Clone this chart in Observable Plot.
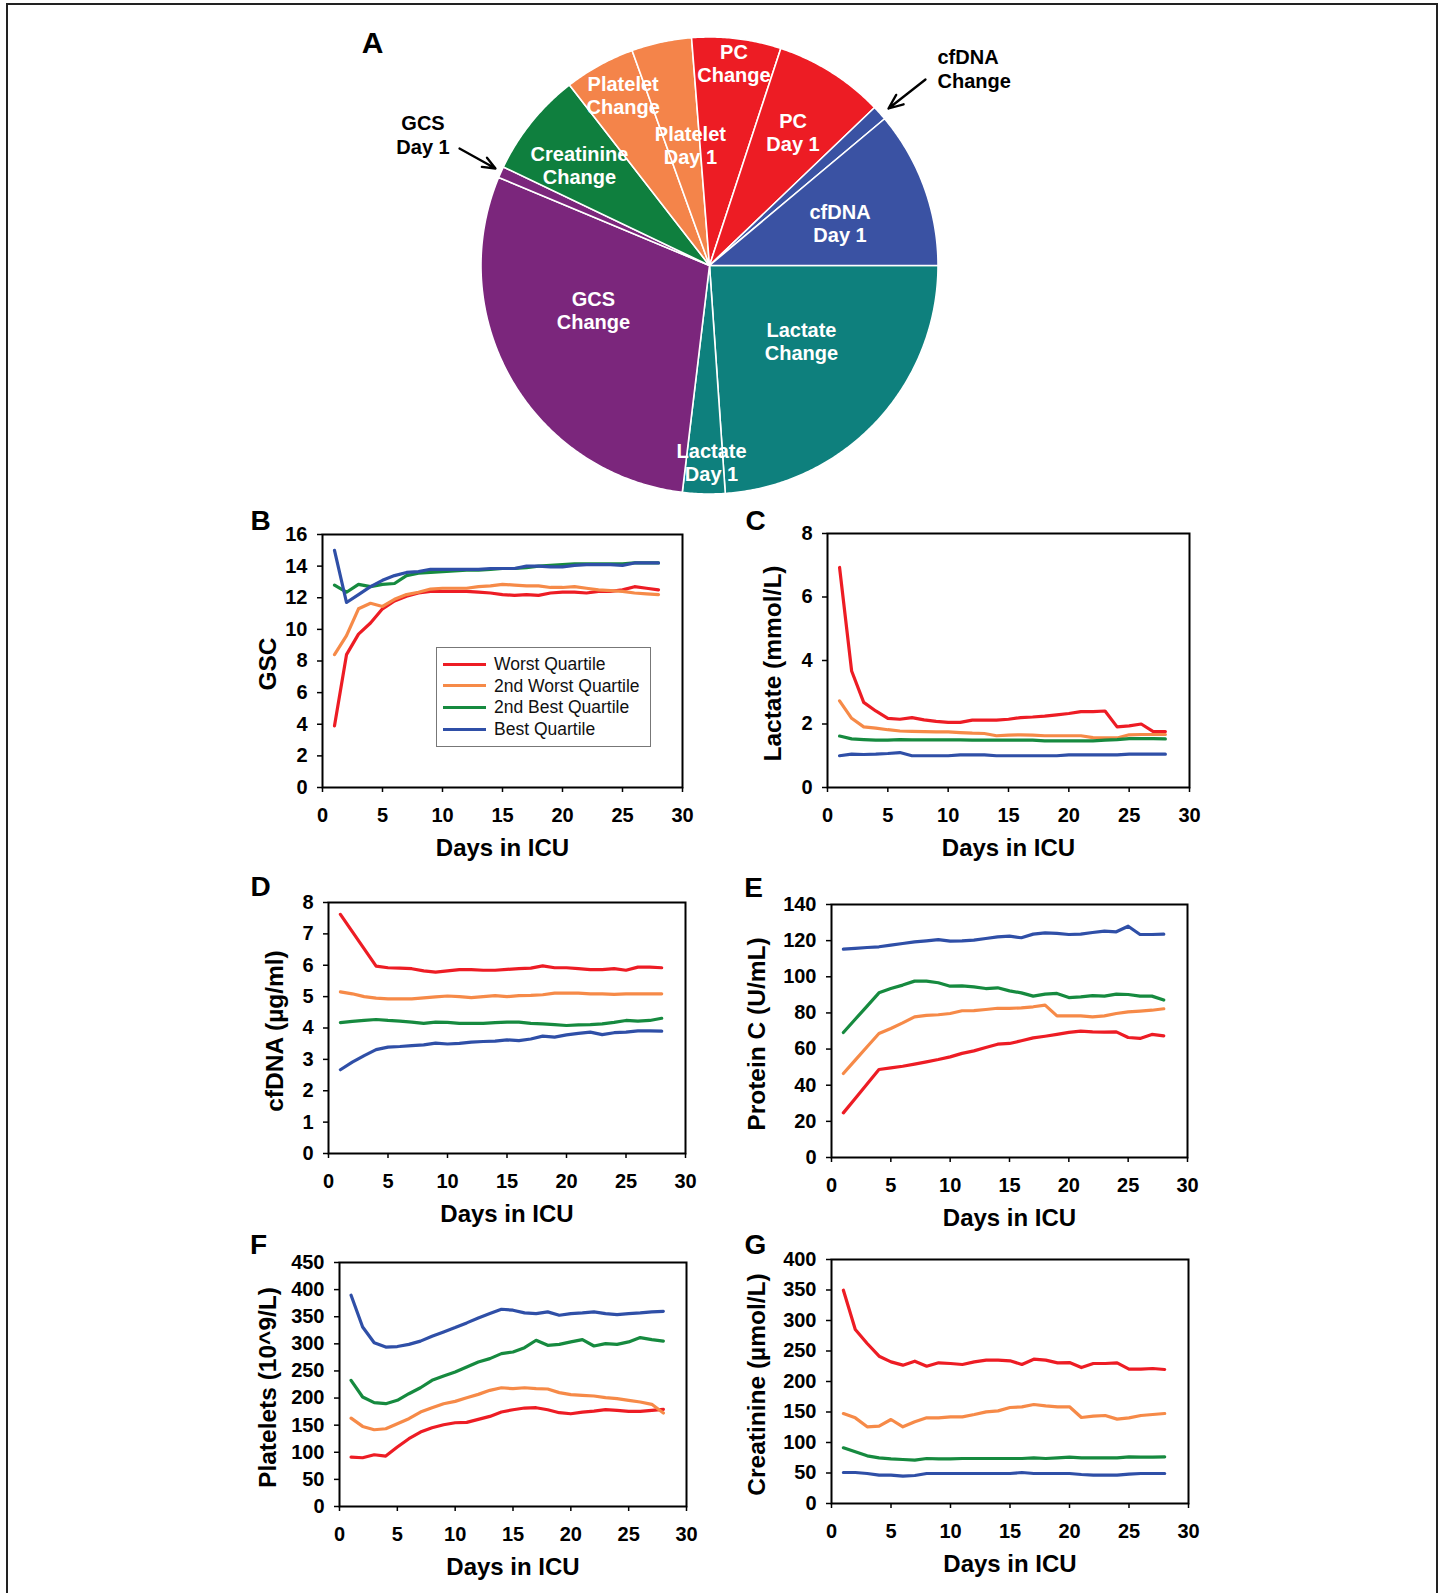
<!DOCTYPE html>
<html><head><meta charset="utf-8">
<script src="https://cdn.jsdelivr.net/npm/d3@7"></script>
<script src="https://cdn.jsdelivr.net/npm/@observablehq/plot@0.6"></script>
<style>
body{margin:0;background:#fff;}
#fig{position:relative;width:1444px;height:1593px;overflow:hidden;background:#fff;font-family:"Liberation Sans",Arial,sans-serif;}
#border{position:absolute;left:6px;top:3px;width:1428px;height:1700px;border:2px solid #222;border-bottom:none;}
</style></head><body><div id="fig"><div id="border"></div></div>
<script>
// ---------- DATA ----------
const pieCategories = ["Lactate Change","Lactate Day 1","GCS Change","GCS Day 1","Creatinine Change","Platelet Change","Platelet Day 1","PC Change","PC Day 1","cfDNA Change","cfDNA Day 1"];
const pieValues = [23.9, 3.0, 29.4, 0.8, 7.4, 5.0, 4.25, 6.3, 7.8, 1.05, 11.1];
const pieColors = ["#0E807D","#0E807D","#7B267C","#7B267C","#0F7F3E","#F4844A","#F4844A","#ED1C24","#ED1C24","#3A52A3","#3A52A3"];

const days = [1,2,3,4,5,6,7,8,9,10,11,12,13,14,15,16,17,18,19,20,21,22,23,24,25,26,27,28];
const seriesNames = ["Worst Quartile","2nd Worst Quartile","2nd Best Quartile","Best Quartile"];
const seriesColors = ["#ED1C24","#F68A48","#168A3F","#2F4FA7"];
const xTicks = [0,5,10,15,20,25,30];

const gcsWorst  = [3.9,8.4,9.7,10.4,11.3,11.8,12.1,12.3,12.4,12.4,12.4,12.4,12.35,12.3,12.2,12.15,12.2,12.15,12.3,12.35,12.35,12.3,12.4,12.4,12.5,12.7,12.6,12.5];
const gcsWorst2 = [8.4,9.6,11.3,11.65,11.45,11.9,12.2,12.35,12.55,12.6,12.6,12.6,12.7,12.75,12.85,12.8,12.75,12.75,12.65,12.65,12.7,12.6,12.5,12.45,12.4,12.3,12.25,12.2];
const gcsBest2  = [12.8,12.35,12.85,12.7,12.85,12.9,13.4,13.55,13.6,13.65,13.7,13.75,13.75,13.8,13.85,13.85,13.9,14.0,14.05,14.1,14.15,14.15,14.15,14.15,14.15,14.2,14.2,14.2];
const gcsBest   = [15.0,11.7,12.2,12.7,13.1,13.4,13.6,13.65,13.8,13.8,13.8,13.8,13.8,13.85,13.85,13.85,14.0,14.0,13.95,13.95,14.05,14.1,14.1,14.1,14.05,14.2,14.2,14.2];

const lacWorst  = [6.93,3.67,2.68,2.41,2.18,2.15,2.2,2.13,2.08,2.05,2.05,2.12,2.12,2.12,2.15,2.2,2.22,2.25,2.29,2.33,2.39,2.39,2.41,1.91,1.94,2.0,1.76,1.76];
const lacWorst2 = [2.73,2.18,1.91,1.87,1.82,1.78,1.77,1.76,1.75,1.75,1.73,1.71,1.7,1.63,1.65,1.66,1.65,1.63,1.63,1.63,1.63,1.57,1.56,1.56,1.66,1.67,1.67,1.67];
const lacBest2  = [1.62,1.53,1.51,1.49,1.49,1.51,1.5,1.5,1.5,1.5,1.5,1.49,1.49,1.49,1.49,1.49,1.49,1.47,1.47,1.47,1.47,1.47,1.49,1.51,1.54,1.54,1.54,1.53];
const lacBest   = [1.0,1.05,1.04,1.05,1.07,1.1,1.0,1.0,1.0,1.0,1.03,1.03,1.03,1.0,1.0,1.0,1.0,1.0,1.0,1.03,1.03,1.03,1.03,1.03,1.05,1.05,1.05,1.05];

const dnaWorst  = [7.62,7.07,6.52,5.97,5.92,5.91,5.89,5.82,5.78,5.82,5.86,5.86,5.84,5.84,5.87,5.89,5.91,5.98,5.92,5.92,5.89,5.86,5.86,5.89,5.84,5.94,5.94,5.92];
const dnaWorst2 = [5.15,5.09,5.0,4.95,4.93,4.93,4.93,4.96,4.99,5.02,5.0,4.97,5.0,5.03,5.0,5.03,5.04,5.06,5.11,5.11,5.11,5.09,5.09,5.07,5.09,5.09,5.09,5.09];
const dnaBest2  = [4.17,4.21,4.24,4.27,4.24,4.22,4.19,4.15,4.19,4.18,4.15,4.15,4.15,4.17,4.19,4.19,4.15,4.13,4.11,4.08,4.1,4.11,4.13,4.18,4.24,4.22,4.24,4.31];
const dnaBest   = [2.67,2.91,3.12,3.31,3.39,3.41,3.44,3.46,3.52,3.49,3.51,3.55,3.57,3.58,3.62,3.6,3.65,3.74,3.71,3.78,3.83,3.87,3.79,3.85,3.87,3.91,3.91,3.9];

const pcWorst  = [24.7,32.7,40.7,48.7,49.6,50.5,51.7,52.9,54.2,55.7,57.6,59,60.9,62.7,63.1,64.6,66.2,67.1,68.1,69.2,69.9,69.5,69.4,69.5,66.4,65.9,68.1,67.3];
const pcWorst2 = [46.5,53.9,61.3,68.6,71.4,74.5,77.8,78.6,79,79.7,81.2,81.3,81.9,82.6,82.5,82.8,83.4,84.3,78.4,78.4,78.4,77.8,78.4,79.7,80.6,81,81.5,82.3];
const pcBest2  = [69.2,76.5,83.8,91.1,93.5,95.4,97.6,97.6,96.7,94.8,95,94.4,93.5,93.9,92.2,91.1,89.3,90.4,90.8,88.5,88.9,89.6,89.3,90.4,90.2,89.3,89.3,87.1];
const pcBest   = [115.3,115.7,116.2,116.6,117.5,118.4,119.3,119.9,120.6,119.7,119.9,120.3,121.2,122.1,122.5,121.6,123.6,124.3,124,123.4,123.6,124.5,125.3,124.9,128,123.4,123.4,123.6];

const pltWorst  = [91.1,89.9,95.4,93,109.6,125,137.3,145.3,150.8,154.5,155.1,160.7,166.2,174.2,178.5,181.6,182.2,178.5,173,171,174.2,176,178.5,177.3,175.4,175.4,177.3,179.1];
const pltWorst2 = [163,147.7,141.6,143.4,152.7,161.9,174.2,182.2,189.6,193.9,200.7,206.8,214.2,219,217.3,219,217.3,216.7,210,206.2,205,203.8,200.7,198.8,195.8,192.7,188.4,172.4];
const pltBest2  = [232.7,202,191.5,189.6,195.8,208,219,232.7,240.7,248,257.4,266.6,272.7,282,285,293,306.6,297.3,299,303.5,307.8,296,300.4,299,303.5,311.5,307.8,305];
const pltBest   = [389.7,331,302,294,295,299,305,314,322,330,338.6,347.8,355.8,363.8,362,357,355.8,359,352.7,355.8,357,359,355.8,354,355.8,357,359,360];

const crWorst  = [349.7,285.2,262.3,241.5,232.2,226.8,233.3,225.1,230.6,229.5,227.9,232.2,235,235,233.9,227.9,236.6,235,230.6,231.1,222.9,229.5,229.5,230.6,220.2,220.2,221.3,219.7];
const crWorst2 = [147.5,140.4,125.7,126.8,137.7,125.7,133.9,140.4,140.4,142.1,142.1,145.9,150.3,151.9,157.4,158.5,162.3,160.1,158.5,158.5,141,143.2,144.3,138.3,140.4,144.3,145.9,147.5];
const crBest2  = [91.3,84.7,78.1,74.9,73.2,72.1,71,73.8,73.2,73.2,73.8,73.8,73.8,73.8,73.8,73.8,74.9,73.8,74.9,76,74.9,74.9,74.9,74.9,76.5,76,76,76.5];
const crBest   = [50.8,50.8,49.2,46.4,46.4,44.8,45.9,49.2,49.2,49.2,49.2,49.2,49.2,49.2,49.2,50.8,49.2,49.2,49.2,49.2,47.5,46.4,46.4,46.4,48.1,49.2,49.2,49.2];

// ---------- LAYOUT ----------
const FONT = '"Liberation Sans", Arial, sans-serif';
const fig = document.getElementById("fig");
const pie = {cx: 709, cy: 265, r: 228.5};
const labelPolar = { // [angle deg clockwise from north, radius fraction]
  "Lactate Change":[129.3,0.52], "Lactate Day 1":[179.4,0.86], "GCS Change":[248.8,0.545],
  "Creatinine Change":[307.8,0.72], "Platelet Change":[333.1,0.835], "Platelet Day 1":[351,0.535],
  "PC Change":[6.9,0.89], "PC Day 1":[32,0.69], "cfDNA Day 1":[72.2,0.60]
};

function place(el, left, top){ el.style.position="absolute"; el.style.left=left+"px"; el.style.top=top+"px"; fig.appendChild(el); }

// ---------- PIE (panel A) ----------
{
  const arcs = d3.pie().sort(null).value(d => d).startAngle(Math.PI/2).endAngle(Math.PI/2 + 2*Math.PI)(pieValues);
  const pt = (a, rr) => ({x: pie.cx + rr*Math.sin(a), y: pie.cy - rr*Math.cos(a)});
  const sliceMarks = arcs.map((a, i) => {
    const n = Math.max(2, Math.ceil((a.endAngle - a.startAngle) / (Math.PI/360)));
    const pts = [pt(0,0)];
    for (let k = 0; k <= n; k++) pts.push(pt(a.startAngle + (a.endAngle - a.startAngle)*k/n, pie.r));
    return Plot.line(pts, {x:"x", y:"y", fill: pieColors[i], stroke:"white", strokeWidth:1.6, strokeLinejoin:"round", curve:"linear-closed"});
  });
  const two = s => s.replace(" ", "\n");
  const inner = pieCategories.filter(c => labelPolar[c]).map(c => {
    const [ang, f] = labelPolar[c];
    const p = pt(ang*Math.PI/180, f*pie.r);
    return {x:p.x, y:p.y, t: two(c)};
  });
  const svg = Plot.plot({
    width:1444, height:500, margin:0,
    x:{domain:[0,1444], range:[0,1444], axis:null},
    y:{domain:[0,500], range:[0,500], axis:null},
    style:{fontFamily:FONT, overflow:"visible", background:"transparent"},
    marks:[
      ...sliceMarks,
      Plot.text(inner, {x:"x", y:"y", text:"t", fill:"white", fontSize:20, fontWeight:"bold", lineHeight:1.15, textAnchor:"middle", lineAnchor:"middle"}),
      Plot.text([two("GCS Day 1")], {x:[422.5], y:[134], text:d=>d, fill:"black", fontSize:20, fontWeight:"bold", lineHeight:1.2, textAnchor:"middle", lineAnchor:"middle"}),
      Plot.text([two("cfDNA Change")], {x:[937], y:[68], text:d=>d, fill:"black", fontSize:20, fontWeight:"bold", lineHeight:1.2, textAnchor:"start", lineAnchor:"middle"}),
      Plot.arrow([{x1:459,y1:148,x2:495,y2:168},{x1:925,y1:79,x2:888,y2:108}], {x1:"x1",y1:"y1",x2:"x2",y2:"y2", stroke:"black", strokeWidth:2.3, headLength:16, headAngle:45}),
      Plot.text(["A"], {x:[372], y:[43], text:d=>d, fontSize:30, fontWeight:"bold", fill:"black", textAnchor:"middle", lineAnchor:"middle"})
    ]
  });
  place(svg, 0, 0);
}

// ---------- LINE PANELS ----------
function panel(cfg){
  const mL=110, mR=30, mT=40, mB=90;
  const [L,R,T,B] = cfg.frame;
  const w = R-L+mL+mR, h = B-T+mT+mB;
  const svg = Plot.plot({
    width:w, height:h, marginLeft:mL, marginRight:mR, marginTop:mT, marginBottom:mB,
    style:{fontFamily:FONT, fontSize:"20px", fontWeight:"bold", color:"black", overflow:"visible", background:"transparent"},
    x:{domain:[0,30]}, y:{domain:[0,cfg.ymax]},
    marks:[
      ...cfg.series.map((s,k) => Plot.line(s, {x: days, y: d => d, stroke: seriesColors[k], strokeWidth:3.2, strokeLinejoin:"round"})),
      Plot.frame({stroke:"black", strokeWidth:2}),
      Plot.axisX({ticks:xTicks, tickSize:5, tickPadding:15, strokeWidth:1.5, label:null}),
      Plot.axisY({ticks:cfg.yTicks, tickSize:5, tickPadding:10, strokeWidth:1.5, label:null}),
      Plot.text(["Days in ICU"], {text:d=>d, frameAnchor:"bottom", dy:61, fontSize:24, fontWeight:"bold", lineAnchor:"middle", textAnchor:"middle"}),
      Plot.text([cfg.yTitle], {text:d=>d, frameAnchor:"left", dx:cfg.ytdx, dy:3, rotate:-90, fontSize:24.5, fontWeight:"bold", lineAnchor:"middle", textAnchor:"middle"}),
      Plot.text([cfg.letter], {text:d=>d, frameAnchor:"top-left", dx:cfg.ld[0], dy:cfg.ld[1], fontSize:28, fontWeight:"bold", textAnchor:"middle", lineAnchor:"middle"})
    ]
  });
  place(svg, L-mL, T-mT);
}

panel({letter:"B", frame:[322,682,534,787], ymax:16, yTicks:[0,2,4,6,8,10,12,14,16], yTitle:"GSC", ytdx:-54, ld:[-62,-13], series:[gcsWorst,gcsWorst2,gcsBest2,gcsBest]});
panel({letter:"C", frame:[827,1189,533,787], ymax:8, yTicks:[0,2,4,6,8], yTitle:"Lactate (mmol/L)", ytdx:-54, ld:[-72,-12], series:[lacWorst,lacWorst2,lacBest2,lacBest]});
panel({letter:"D", frame:[328,685,902,1153], ymax:8, yTicks:[0,1,2,3,4,5,6,7,8], yTitle:"cfDNA (µg/ml)", ytdx:-53, ld:[-68,-15], series:[dnaWorst,dnaWorst2,dnaBest2,dnaBest]});
panel({letter:"E", frame:[831,1187,904,1157], ymax:140, yTicks:[0,20,40,60,80,100,120,140], yTitle:"Protein C (U/mL)", ytdx:-74, ld:[-78,-16], series:[pcWorst,pcWorst2,pcBest2,pcBest]});
panel({letter:"F", frame:[339,686,1262,1506], ymax:450, yTicks:[0,50,100,150,200,250,300,350,400,450], yTitle:"Platelets (10^9/L)", ytdx:-71, ld:[-81,-17], series:[pltWorst,pltWorst2,pltBest2,pltBest]});
panel({letter:"G", frame:[831,1188,1259,1503], ymax:400, yTicks:[0,50,100,150,200,250,300,350,400], yTitle:"Creatinine (µmol/L)", ytdx:-74, ld:[-76,-14], series:[crWorst,crWorst2,crBest2,crBest]});

// ---------- LEGEND (panel B) ----------
{
  const leg = document.createElement("div");
  leg.style.cssText = "width:213px;height:98px;border:1px solid #777;background:#fff;font-family:"+FONT+";font-size:17.5px;color:#111;";
  seriesNames.forEach((name, k) => {
    const cy = 16 + k*21.7;
    const sw = document.createElement("div");
    sw.style.cssText = `position:absolute;left:6px;top:${cy-1.5}px;width:43px;height:3px;background:${seriesColors[k]};`;
    const tx = document.createElement("div");
    tx.style.cssText = `position:absolute;left:57px;top:${cy-11}px;height:22px;line-height:22px;white-space:nowrap;`;
    tx.textContent = name;
    leg.appendChild(sw); leg.appendChild(tx);
  });
  place(leg, 436, 647);
}
</script></body></html>
